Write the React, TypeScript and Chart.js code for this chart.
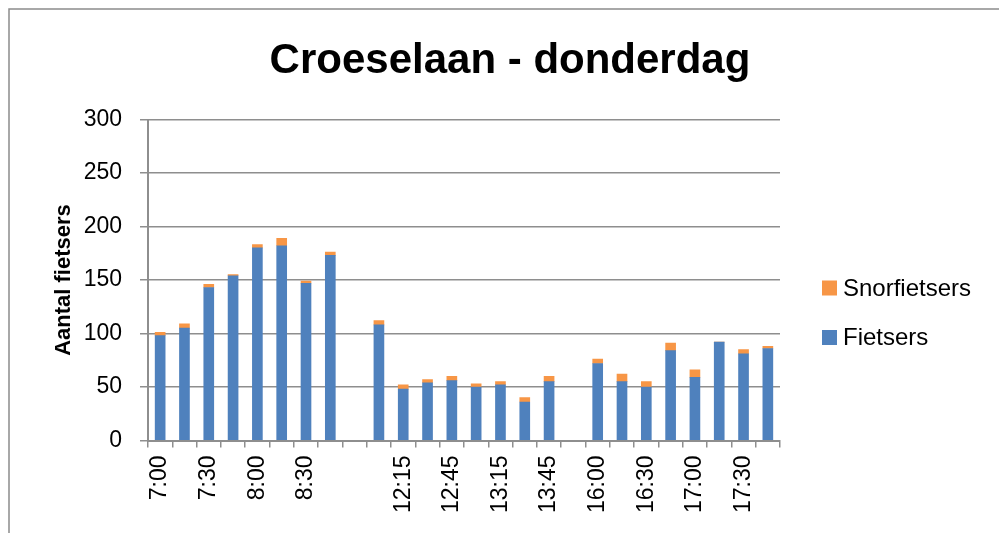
import React, { useEffect, useRef } from "react";
import { Chart, registerables } from "chart.js";

Chart.register(...registerables);

const TITLE = "Croeselaan - donderdag";
const Y_TITLE = "Aantal fietsers";

const categories = [
  "7:00", "7:15", "7:30", "7:45", "8:00", "8:15", "8:30", "8:45", "",
  "12:00", "12:15", "12:30", "12:45", "13:00", "13:15", "13:30", "13:45", "",
  "16:00", "16:15", "16:30", "16:45", "17:00", "17:15", "17:30", "17:45",
];

const fietsers = [
  98, 105, 143, 154, 180, 182, 147, 173, null,
  108, 48, 54, 56, 50, 52, 36, 55, null,
  72, 55, 50, 84, 59, 92, 81, 86,
];

const snorfietsers = [
  3, 4, 3, 1, 3, 7, 2, 3, null,
  4, 4, 3, 4, 3, 3, 4, 5, null,
  4, 7, 5, 7, 7, 0, 4, 2,
];

const yTicks = [0, 50, 100, 150, 200, 250, 300];

const BLUE = "#4F81BD";
const ORANGE = "#F79646";
const GRID = "#8e8e8e";
const FONT = "'Liberation Sans', Arial, sans-serif";

const decorPlugin = {
  id: "decor",
  afterDraw(chart: any) {
    const ctx = chart.ctx;
    ctx.save();
    // frame
    ctx.strokeStyle = "#8c8c8c";
    ctx.lineWidth = 1.5;
    ctx.beginPath();
    ctx.moveTo(9, 540);
    ctx.lineTo(9, 9);
    ctx.lineTo(1010, 9);
    ctx.stroke();
    // title
    ctx.fillStyle = "#000";
    ctx.font = `bold 42px ${FONT}`;
    ctx.textAlign = "center";
    ctx.textBaseline = "alphabetic";
    ctx.fillText(TITLE, 510, 73);
    // legend (reverse order)
    const ds = chart.data.datasets;
    const rows = [ds[1], ds[0]];
    const ys = [288, 337.5];
    ctx.font = `24px ${FONT}`;
    ctx.textAlign = "left";
    ctx.textBaseline = "middle";
    rows.forEach((d: any, i: number) => {
      ctx.fillStyle = d.backgroundColor;
      ctx.fillRect(822, ys[i] - 7.5, 15, 15);
      ctx.fillStyle = "#000";
      ctx.fillText(d.label, 843, ys[i] + 1);
    });
    ctx.restore();
  },
};

export default function App() {
  const ref = useRef<HTMLCanvasElement>(null);
  useEffect(() => {
    document.body.style.margin = "0";
    const chart = new Chart(ref.current!, {
      type: "bar",
      data: {
        labels: categories,
        datasets: [
          {
            label: "Fietsers",
            data: fietsers,
            backgroundColor: BLUE,
            barThickness: 10,
            stack: "s",
          },
          {
            label: "Snorfietsers",
            data: snorfietsers,
            backgroundColor: ORANGE,
            barThickness: 10,
            stack: "s",
          },
        ],
      },
      options: {
        animation: false,
        responsive: false,
        layout: { padding: { left: 0, right: 219, top: 119.5, bottom: 0 } },
        plugins: {
          legend: { display: false },
          title: { display: false },
          tooltip: { enabled: false },
        },
        scales: {
          x: {
            stacked: true,
            afterFit(scale: any) {
              scale.height = 92.5;
            },
            grid: {
              offset: true,
              drawOnChartArea: false,
              drawTicks: true,
              tickLength: 7,
              color: GRID,
              lineWidth: 1.5,
            },
            border: { color: GRID, width: 2 },
            ticks: {
              autoSkip: false,
              minRotation: 90,
              maxRotation: 90,
              padding: 8,
              color: "#000",
              font: { family: FONT, size: 23 },
              callback: (_v: any, i: number) => (i % 2 === 0 ? categories[i] : ""),
            },
          },
          y: {
            stacked: true,
            min: 0,
            max: 300,
            afterFit(scale: any) {
              scale.width = 148;
            },
            afterBuildTicks(scale: any) {
              scale.ticks = yTicks.map((v) => ({ value: v }));
            },
            grid: {
              color: GRID,
              lineWidth: 1.5,
              tickLength: 8,
            },
            border: { color: GRID, width: 2 },
            ticks: {
              padding: 18,
              color: "#000",
              font: { family: FONT, size: 23 },
            },
            title: {
              display: true,
              text: Y_TITLE,
              color: "#000",
              font: { family: FONT, size: 22, weight: "bold" },
              padding: { top: 51, bottom: 0 },
            },
          },
        },
      },
      plugins: [decorPlugin],
    });
    return () => chart.destroy();
  }, []);
  return (
    <div style={{ width: 999, height: 533, position: "relative", background: "#fff" }}>
      <canvas ref={ref} width={999} height={533} style={{ display: "block" }} />
    </div>
  );
}
